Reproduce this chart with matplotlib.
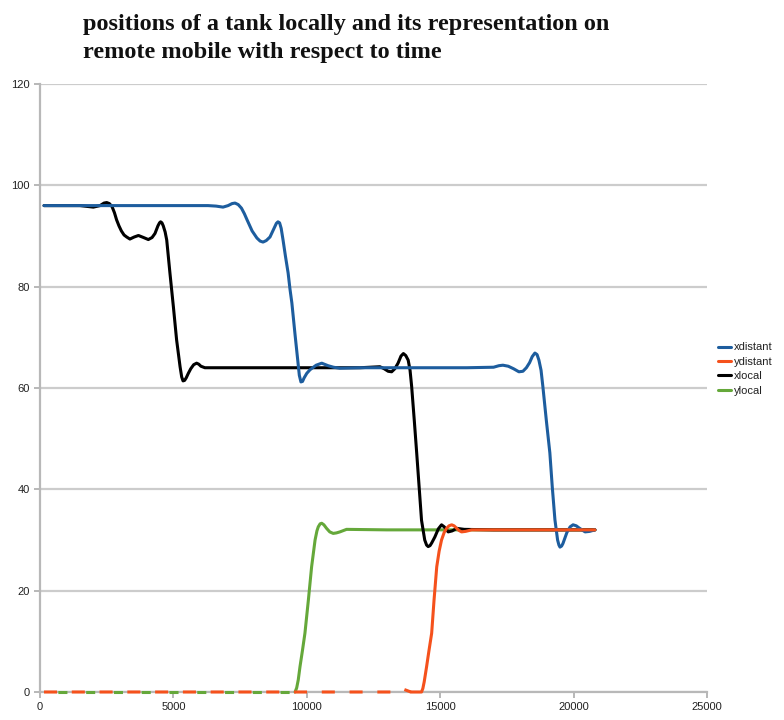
import matplotlib
matplotlib.use("Agg")
from matplotlib import pyplot as plt

# Series values (time in ms, position in grid units)
xdistant_t = [150, 2000, 4000, 6300, 6600, 6860, 7050, 7200, 7310, 7430, 7550, 7660,
              7760, 7950, 8130, 8250, 8360, 8480, 8620, 8780, 8860, 8920, 8980, 9040,
              9110, 9200, 9300, 9370, 9440, 9560, 9660, 9720, 9780, 9840, 9900, 10000,
              10120, 10350, 10560, 10800, 11000, 11240, 12000, 13000, 14000, 15000,
              16000, 17000, 17200, 17350, 17550, 17750, 17950, 18100, 18230, 18350,
              18450, 18550, 18630, 18700, 18780, 18850, 18980, 19110, 19200, 19300,
              19400, 19450, 19490, 19550, 19600, 19750, 19870, 19980, 20100, 20200,
              20430, 20600, 20800]
xdistant_v = [96, 96, 96, 96, 95.9, 95.7, 96.0, 96.4, 96.5, 96.2, 95.5, 94.4,
              93.2, 91.0, 89.6, 89.0, 88.8, 89.1, 89.8, 91.6, 92.5, 92.8, 92.6, 91.5,
              89.2, 86.0, 82.7, 79.5, 76.8, 70.5, 65.5, 62.5, 61.2, 61.3, 62.0, 62.9,
              63.6, 64.5, 64.9, 64.4, 64.1, 63.9, 64, 64, 64, 64,
              64, 64.1, 64.4, 64.5, 64.3, 63.8, 63.2, 63.3, 64.0, 65.0,
              66.2, 66.9, 66.6, 65.5, 63.5, 60.2, 53.5, 47.2, 40.5, 34.0,
              30.0, 29.0, 28.6, 28.8, 29.3, 31.5, 32.6, 33.0, 32.8, 32.4,
              31.6, 31.7, 32]

ydistant_t = [150, 13300, 13450, 13600, 13750, 13900, 14300, 14350, 14400, 14490, 14580,
              14680, 14770, 14870, 14960, 15050, 15150, 15240, 15330, 15430, 15520,
              15600, 15700, 15800, 15950, 16180, 18000, 20800]
ydistant_v = [0, 0, 0.4, 0.6, 0.3, 0, 0, 0.7, 2.0, 5.0, 8.2,
              11.6, 18.2, 24.7, 27.8, 30.0, 31.5, 32.3, 32.8, 33.0, 32.8,
              32.4, 31.9, 31.6, 31.7, 32, 32, 32]

xlocal_t = [150, 1500, 2000, 2250, 2400, 2500, 2600, 2700, 2790, 2870, 2960, 3050,
            3150, 3250, 3370, 3530, 3690, 3880, 4060, 4200, 4310, 4420, 4480, 4520,
            4570, 4620, 4690, 4750, 4870, 5000, 5120, 5250, 5310, 5360, 5420, 5480,
            5560, 5650, 5760, 5870, 5950, 6030, 6180, 8000, 10000, 12000, 12740,
            12900, 13050, 13180, 13300, 13420, 13530, 13620, 13710, 13800, 13870,
            13930, 14030, 14120, 14210, 14300, 14420, 14490, 14550, 14620, 14680,
            14800, 14930, 15050, 15150, 15300, 15450, 15620, 15900, 17000, 20800]
xlocal_v = [96, 96, 95.7, 96.0, 96.5, 96.6, 96.4, 95.8, 94.6, 93.2, 92.0, 91.0,
            90.2, 89.8, 89.4, 89.8, 90.1, 89.7, 89.3, 89.7, 90.5, 92.0, 92.6, 92.8,
            92.6, 92.0, 90.8, 89.2, 82.7, 76.0, 69.5, 64.2, 62.2, 61.4, 61.5, 62.0,
            62.9, 63.8, 64.6, 64.9, 64.7, 64.3, 64.0, 64, 64, 64, 64.2,
            63.8, 63.3, 63.2, 63.8, 64.9, 66.3, 66.8, 66.4, 65.5, 63.5,
            60.3, 53.5, 47.1, 40.5, 33.9, 30.0, 29.0, 28.7, 28.9, 29.4,
            30.6, 32.2, 33.0, 32.6, 31.6, 31.8, 32.3, 32.1, 32, 32]

ylocal_t = [150, 9560, 9620, 9680, 9745, 9840, 9930, 10060, 10180, 10310, 10380,
            10430, 10500, 10560, 10640, 10740, 10860, 10990, 11110, 11240, 11490,
            13000, 16000, 20800]
ylocal_v = [0, 0, 0.8, 2.4, 5.0, 8.3, 11.6, 18.2, 24.7, 30.0, 31.8,
            32.6, 33.2, 33.3, 33.0, 32.3, 31.6, 31.3, 31.4, 31.6, 32.1,
            32, 32, 32]

labels = ["xdistant", "ydistant", "xlocal", "ylocal"]
colors = ["#1d5d9e", "#f5511c", "#000000", "#65a83a"]

TITLE = ("positions of a tank locally and its representation on\n"
         "remote mobile with respect to time")

LW = 2.2
GRID_COLOR = "#cccccc"
LINE_KW = dict(lw=LW, solid_joinstyle="round", solid_capstyle="round", clip_on=False)


def first_nonzero(vals):
    for i, v in enumerate(vals):
        if v != 0:
            return i
    return len(vals)


def plot_y_series(ax, t, v, color, dashes, zorder, label, zero_end=None):
    # zero run along the axis is drawn dashed, the rest solid
    k = zero_end if zero_end is not None else first_nonzero(v)
    ax.plot(t[:k], v[:k], color=color, lw=LW, linestyle=dashes,
            dash_capstyle="butt", zorder=zorder, clip_on=False)
    ax.plot(t[k - 1:], v[k - 1:], color=color, zorder=zorder, label=label, **LINE_KW)


def main():
    plt.rcParams["lines.scale_dashes"] = False
    plt.rcParams["font.family"] = ["Liberation Sans", "DejaVu Sans"]

    fig = plt.figure(figsize=(7.84, 7.2), dpi=100)
    ax = fig.add_axes([40 / 784, 28 / 720, 667 / 784, 608 / 720])

    ax.plot(xlocal_t, xlocal_v, color=colors[2], zorder=4, label=labels[2], **LINE_KW)
    ax.plot(xdistant_t, xdistant_v, color=colors[0], zorder=5, label=labels[0], **LINE_KW)
    plot_y_series(ax, ylocal_t, ylocal_v, colors[3], (10.0, (6.5, 13.5)), 3, labels[3])
    # ydistant keeps the dash through its small bump near 13500
    plot_y_series(ax, ydistant_t, ydistant_v, colors[1], (0, (9.4, 10.6)), 6,
                  labels[1], zero_end=6)

    ax.set_xlim(0, 25000)
    ax.set_ylim(0, 120)
    ax.set_xticks(range(0, 25001, 5000))
    ax.set_yticks(range(0, 121, 20))
    ax.yaxis.grid(True, color=GRID_COLOR, lw=1.6, zorder=0)
    ax.set_axisbelow(True)
    for side in ["top", "right"]:
        ax.spines[side].set_visible(False)
    for side in ["left", "bottom"]:
        ax.spines[side].set_color("#b8b8b8")
        ax.spines[side].set_linewidth(1.6)
        ax.spines[side].set_zorder(1)
    ax.tick_params(colors="#b8b8b8", labelcolor="#222222", labelsize=8,
                   length=4, width=1.4)

    handles, labs = ax.get_legend_handles_labels()
    order = [labs.index(name) for name in labels]
    fig.legend([handles[i] for i in order], labels, loc="upper left",
               bbox_to_anchor=(714 / 784, 1 - 338 / 720), frameon=False,
               fontsize=8, handlelength=1.1, handletextpad=0.3,
               labelspacing=0.4, borderaxespad=0, labelcolor="#222222")

    fig.text(83 / 784, 1 - 14 / 720, TITLE, ha="left", va="top",
             family="Liberation Serif", fontweight="bold", fontsize=17.5,
             linespacing=1.45, color="#111111")

    fig.savefig("out.png", dpi=100, facecolor="white")
    plt.close(fig)


if __name__ == "__main__":
    main()
